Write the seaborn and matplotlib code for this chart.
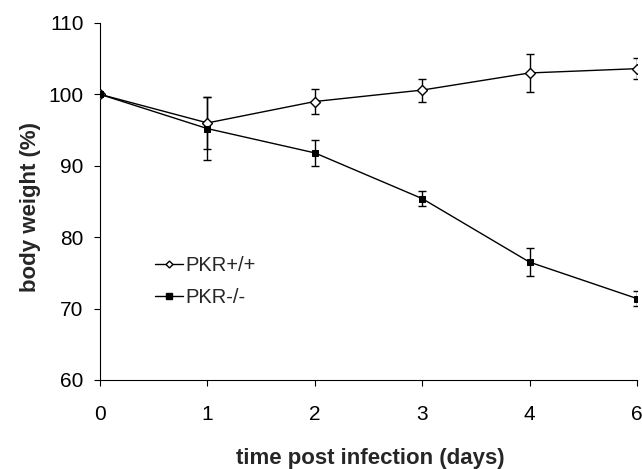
import numpy as np
import pandas as pd
import seaborn as sns
import matplotlib.pyplot as plt
from matplotlib.lines import Line2D

# data
days = ["0", "1", "2", "3", "4", "6"]
wt_mean = [100.0, 96.0, 99.0, 100.6, 103.0, 103.6]
wt_err = [0.0, 3.6, 1.7, 1.6, 2.6, 1.5]
ko_mean = [100.0, 95.2, 91.8, 85.4, 76.5, 71.4]
ko_err = [0.0, 4.4, 1.8, 1.0, 2.0, 1.0]

pos = np.arange(len(days))
df = pd.DataFrame({
    "pos": np.concatenate([pos, pos]),
    "weight": wt_mean + ko_mean,
    "group": ["PKR+/+"] * len(days) + ["PKR-/-"] * len(days),
})

sns.set_style("ticks")
plt.rcParams["font.family"] = ["Liberation Sans", "DejaVu Sans"]

fig, ax = plt.subplots(figsize=(6.42, 4.69), dpi=100)
fig.subplots_adjust(left=0.156, right=0.992, top=0.951, bottom=0.19)

# error bars
ax.errorbar(pos, wt_mean, yerr=wt_err, fmt="none", ecolor="black",
            elinewidth=1, capsize=3.2, capthick=1, zorder=1)
ax.errorbar(pos, ko_mean, yerr=ko_err, fmt="none", ecolor="black",
            elinewidth=1, capsize=3.2, capthick=1, zorder=1)

sns.lineplot(data=df, x="pos", y="weight", hue="group", style="group",
             palette=["black", "black"], markers=["D", "s"], dashes=False,
             linewidth=1, markersize=5, ax=ax, legend=False, zorder=3)
# open diamonds for wild type
ax.lines[-2].set_markerfacecolor("white")
ax.lines[-2].set_markeredgecolor("black")
ax.lines[-2].set_markeredgewidth(1)
ax.lines[-1].set_markerfacecolor("black")
ax.lines[-1].set_markeredgecolor("black")

ax.set_xlim(0, len(days) - 1)
ax.set_ylim(60, 110)
ax.set_xticks(pos)
ax.set_xticklabels(days)
ax.set_yticks([60, 70, 80, 90, 100, 110])
ax.tick_params(axis="both", labelsize=15, direction="out", length=4,
               width=0.8, colors="black")
ax.tick_params(axis="x", pad=14)
ax.tick_params(axis="y", pad=8)
sns.despine(ax=ax)
for s in ["left", "bottom"]:
    ax.spines[s].set_linewidth(0.8)
    ax.spines[s].set_color("black")

ax.set_xlabel("time post infection (days)", fontsize=16, fontweight="bold")
ax.set_ylabel("body weight (%)", fontsize=16, fontweight="bold")
ax.xaxis.set_label_coords(0.503, -0.19)
ax.yaxis.set_label_coords(-0.11, 0.485)

# legend
handles = [
    Line2D([], [], color="black", lw=1, marker="D", markersize=3.5,
           markerfacecolor="white", markeredgecolor="black"),
    Line2D([], [], color="black", lw=1, marker="s", markersize=4.5,
           markerfacecolor="black"),
]
ax.legend(handles, ["PKR+/+", "PKR-/-"], loc="center left",
          bbox_to_anchor=(0.102, 0.276), frameon=False, fontsize=14.5,
          borderpad=0, borderaxespad=0, handlelength=1.4,
          handletextpad=0.1, labelspacing=0.65)

fig.savefig("out.png", dpi=100)
